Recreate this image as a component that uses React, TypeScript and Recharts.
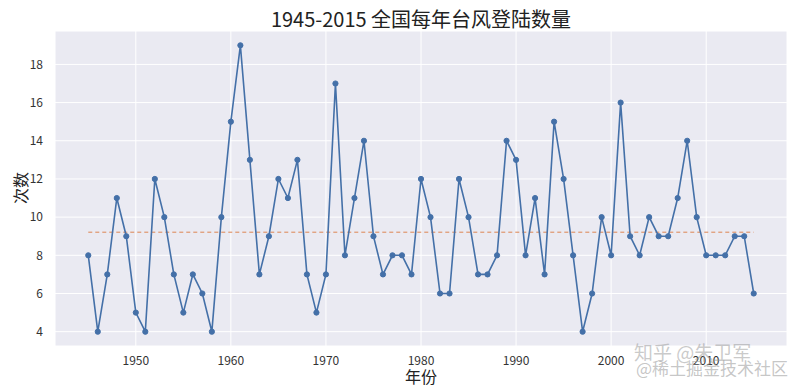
import {
  LineChart,
  Line,
  XAxis,
  YAxis,
  CartesianGrid,
  ReferenceLine,
} from "recharts";

const years: number[] = [
  1945, 1946, 1947, 1948, 1949, 1950, 1951, 1952, 1953, 1954, 1955, 1956,
  1957, 1958, 1959, 1960, 1961, 1962, 1963, 1964, 1965, 1966, 1967, 1968,
  1969, 1970, 1971, 1972, 1973, 1974, 1975, 1976, 1977, 1978, 1979, 1980,
  1981, 1982, 1983, 1984, 1985, 1986, 1987, 1988, 1989, 1990, 1991, 1992,
  1993, 1994, 1995, 1996, 1997, 1998, 1999, 2000, 2001, 2002, 2003, 2004,
  2005, 2006, 2007, 2008, 2009, 2010, 2011, 2012, 2013, 2014, 2015,
];

const counts: number[] = [
  8, 4, 7, 11, 9, 5, 4, 12, 10, 7, 5, 7,
  6, 4, 10, 15, 19, 13, 7, 9, 12, 11, 13, 7,
  5, 7, 17, 8, 11, 14, 9, 7, 8, 8, 7, 12,
  10, 6, 6, 12, 10, 7, 7, 8, 14, 13, 8, 11,
  7, 15, 12, 8, 4, 6, 10, 8, 16, 9, 8, 10,
  9, 9, 11, 14, 10, 8, 8, 8, 9, 9, 6,
];

const xTicks = [1950, 1960, 1970, 1980, 1990, 2000, 2010];
const yTicks = [4, 6, 8, 10, 12, 14, 16, 18];

const data = years.map((year, i) => ({ year, count: counts[i] }));
// 平均线
const mean = counts.reduce((a, b) => a + b, 0) / counts.length;

const tickStyle = { fill: "#333", fontSize: 12, fontFamily: "Noto Sans CJK SC" };

export default function App() {
  return (
    <div
      style={{
        position: "absolute",
        left: 0,
        top: 0,
        width: 800,
        height: 390,
        background: "#fff",
        fontFamily: "Noto Sans CJK SC",
      }}
    >
      <LineChart
        width={800}
        height={390}
        data={data}
        margin={{ top: 31, right: 13, bottom: 0, left: 0 }}
      >
        <CartesianGrid fill="#EAEAF2" stroke="#fff" strokeWidth={1} />
        <XAxis
          dataKey="year"
          type="number"
          domain={[1941.5, 2018.5]}
          ticks={xTicks}
          axisLine={false}
          tickLine={false}
          tick={tickStyle}
          tickMargin={4}
          height={44}
          allowDataOverflow
        />
        <YAxis
          type="number"
          domain={[3.25, 19.75]}
          ticks={yTicks}
          axisLine={false}
          tickLine={false}
          tick={tickStyle}
          tickMargin={6}
          width={55}
          allowDataOverflow
        />
        <ReferenceLine
          segment={[
            { x: 1945, y: mean },
            { x: 2015, y: mean },
          ]}
          stroke="#DD8452"
          strokeDasharray="4 3"
          strokeWidth={1}
        />
        <Line
          dataKey="count"
          stroke="#4470A8"
          strokeWidth={1.6}
          dot={{ r: 2.6, fill: "#4470A8", stroke: "#4470A8", strokeWidth: 1 }}
          isAnimationActive={false}
        />
      </LineChart>
      <div
        style={{
          position: "absolute",
          top: 4,
          left: 221,
          width: 400,
          textAlign: "center",
          fontSize: 20,
          color: "#222",
        }}
      >
        1945-2015 全国每年台风登陆数量
      </div>
      <div
        style={{
          position: "absolute",
          left: 4,
          top: 176,
          fontSize: 16,
          color: "#222",
          transform: "rotate(-90deg)",
          transformOrigin: "center",
        }}
      >
        次数
      </div>
      <div
        style={{
          position: "absolute",
          top: 364,
          left: 371,
          width: 100,
          textAlign: "center",
          fontSize: 16,
          color: "#222",
        }}
      >
        年份
      </div>
      <div
        style={{
          position: "absolute",
          left: 634,
          top: 338,
          fontSize: 19,
          color: "rgba(150,150,150,0.5)",
          whiteSpace: "nowrap",
        }}
      >
        知乎 @朱卫军
      </div>
      <div
        style={{
          position: "absolute",
          left: 636,
          top: 355,
          fontSize: 17,
          color: "rgba(150,150,150,0.55)",
          whiteSpace: "nowrap",
        }}
      >
        @稀土掘金技术社区
      </div>
    </div>
  );
}
